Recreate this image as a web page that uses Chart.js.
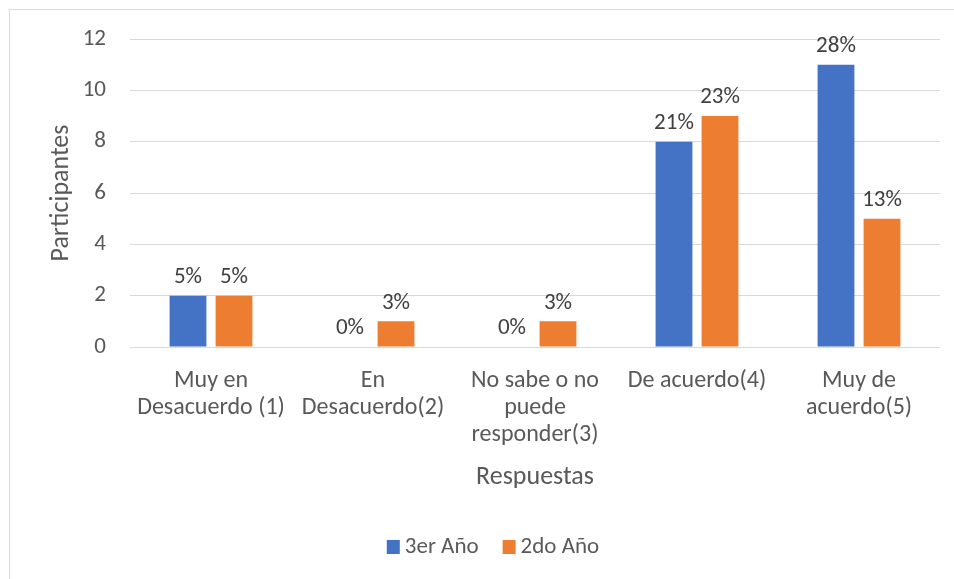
<!DOCTYPE html>
<html>
<head>
<meta charset="utf-8">
<script src="https://cdn.jsdelivr.net/npm/chart.js@4/dist/chart.umd.min.js"></script>
<style>
  html, body { margin: 0; padding: 0; background: #ffffff; }
  #wrap { position: relative; width: 954px; height: 579px; }
  #frame { position: absolute; left: 9px; top: 9px; right: -2px; bottom: -2px; border: 1px solid #d9d9d9; box-sizing: border-box; }
  canvas { position: absolute; left: 0; top: 0; }
</style>
</head>
<body>
<div id="wrap">
  <div id="frame"></div>
  <canvas id="chart" width="954" height="579"></canvas>
</div>
<script>
// Respuestas por categoría (número de participantes)
const categories = [
  ['Muy en', 'Desacuerdo (1)'],
  ['En', 'Desacuerdo(2)'],
  ['No sabe o no', 'puede', 'responder(3)'],
  ['De acuerdo(4)'],
  ['Muy de', 'acuerdo(5)']
];
const seriesNames = ['3er Año', '2do Año'];
const tercerAnio = [2, 0, 0, 8, 11];
const segundoAnio = [2, 1, 1, 9, 5];
// Porcentajes mostrados sobre cada barra
const tercerAnioPct = ['5%', '0%', '0%', '21%', '28%'];
const segundoAnioPct = ['5%', '3%', '3%', '23%', '13%'];
const yTicks = [0, 2, 4, 6, 8, 10, 12];

const FONT = "Carlito, Lato, 'Open Sans', sans-serif";
const TEXT = '#595959';

// Etiquetas de valor encima de cada barra
const barLabels = {
  id: 'barLabels',
  afterDatasetsDraw(chart) {
    const ctx = chart.ctx;
    const texts = [tercerAnioPct, segundoAnioPct];
    ctx.save();
    ctx.font = '23px ' + FONT;
    ctx.fillStyle = '#404040';
    ctx.textAlign = 'center';
    ctx.textBaseline = 'bottom';
    chart.data.datasets.forEach((ds, di) => {
      chart.getDatasetMeta(di).data.forEach((bar, i) => {
        ctx.fillText(texts[di][i], bar.x, bar.y - 7);
      });
    });
    ctx.restore();
  }
};

// Leyenda compacta centrada bajo el título del eje X
const bottomLegend = {
  id: 'bottomLegend',
  afterDraw(chart) {
    const ctx = chart.ctx;
    const cx = 493, cy = 547, box = 13, boxH = 14, gap = 5, spacing = 24;
    ctx.save();
    ctx.font = '23px ' + FONT;
    const items = chart.data.datasets.map(ds => ({
      text: ds.label, color: ds.backgroundColor, w: ctx.measureText(ds.label).width
    }));
    const total = items.reduce((s, it) => s + box + gap + it.w, 0) + spacing * (items.length - 1);
    let x = cx - total / 2;
    ctx.textBaseline = 'middle';
    ctx.textAlign = 'left';
    items.forEach(it => {
      ctx.fillStyle = it.color;
      ctx.fillRect(x, cy - boxH / 2, box, boxH);
      x += box + gap;
      ctx.fillStyle = TEXT;
      ctx.fillText(it.text, x, cy);
      x += it.w + spacing;
    });
    ctx.restore();
  }
};

new Chart(document.getElementById('chart'), {
  type: 'bar',
  data: {
    labels: categories,
    datasets: [
      { label: seriesNames[0], data: tercerAnio, backgroundColor: '#4472C4' },
      { label: seriesNames[1], data: segundoAnio, backgroundColor: '#ED7D31' }
    ]
  },
  plugins: [barLabels, bottomLegend],
  options: {
    responsive: false,
    animation: false,
    layout: { padding: { left: 0, right: 14, top: 39, bottom: 82 } },
    categoryPercentage: 0.568,
    barPercentage: 0.8,
    plugins: {
      legend: { display: false },
      tooltip: { enabled: false }
    },
    scales: {
      y: {
        min: 0,
        max: 12,
        afterBuildTicks(scale) { scale.ticks = yTicks.map(v => ({ value: v })); },
        afterFit(scale) { scale.width = 130; },
        border: { display: false },
        grid: { color: '#d9d9d9', lineWidth: 1, drawTicks: false },
        ticks: { color: TEXT, padding: 24, font: { family: FONT, size: 23 } },
        title: {
          display: true,
          text: 'Participantes',
          color: TEXT,
          font: { family: FONT, size: 26 },
          padding: { top: 46, bottom: 0 }
        }
      },
      x: {
        afterFit(scale) { scale.height = 150; },
        border: { display: false },
        grid: { display: false, drawTicks: false },
        ticks: {
          color: TEXT,
          padding: 20,
          maxRotation: 0,
          autoSkip: false,
          font: { family: FONT, size: 24, lineHeight: 1.125 }
        },
        title: {
          display: true,
          text: 'Respuestas',
          color: TEXT,
          font: { family: FONT, size: 26 },
          padding: { top: 0, bottom: 4 }
        }
      }
    }
  }
});
</script>
</body>
</html>
